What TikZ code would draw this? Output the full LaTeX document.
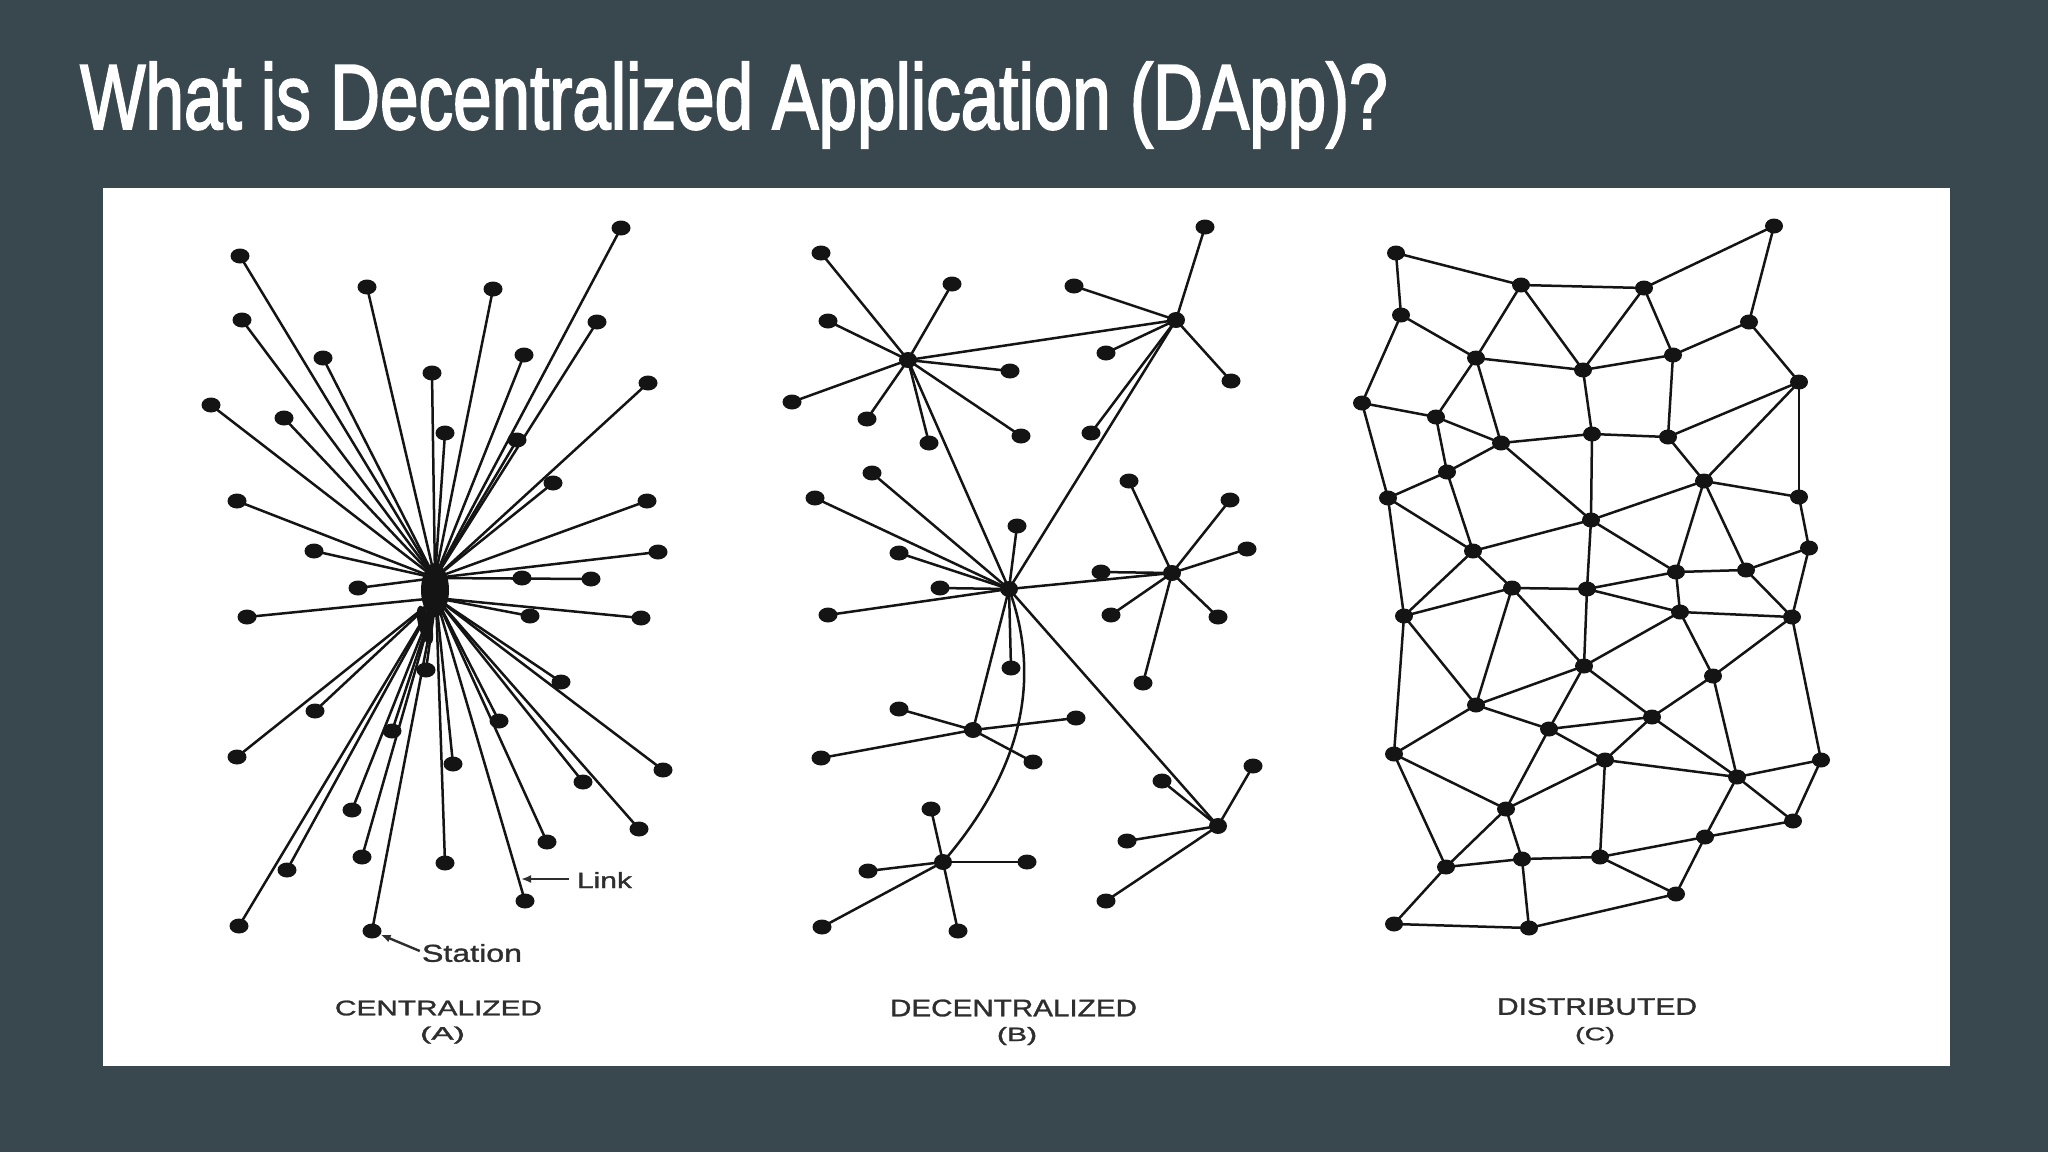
\documentclass[tikz,border=0pt]{standalone}
\usepackage{graphicx}
\usepackage{fontspec}
\setmainfont{Liberation Sans}
\newfontfamily\titlefont[FakeBold=2.4]{Liberation Sans}
\newfontfamily\capfont[FakeBold=1.2]{Liberation Sans}
\usetikzlibrary{shapes.geometric,arrows.meta}
\definecolor{slidebg}{HTML}{39474F}
\definecolor{ink}{HTML}{141414}
\definecolor{capink}{HTML}{2E2E2E}
\tikzset{
  stn/.style={ellipse,fill=ink,draw=none,minimum width=19pt,minimum height=15pt,inner sep=0pt},
  hubB/.style={ellipse,fill=ink,draw=none,minimum width=18pt,minimum height=16pt,inner sep=0pt},
  mesh/.style={ellipse,fill=ink,draw=none,minimum width=18pt,minimum height=15pt,inner sep=0pt},
  ln/.style={draw=ink,line width=2.5pt},
  lab/.style={inner sep=0pt,text=capink,anchor=center,font=\capfont},
  ptr/.style={draw=capink,line width=2.4pt,-{Latex[length=10pt,width=8pt]}}
}
\newcommand{\fitbox}[3]{\resizebox*{#1pt}{#2pt}{#3}}
\begin{document}
\begin{tikzpicture}[x=1pt,y=-1pt]
\useasboundingbox (0,0) rectangle (2048,1152);
\fill[slidebg] (0,0) rectangle (2048,1152);
\fill[white] (103,188) rectangle (1950,1066);
\node[inner sep=0pt,anchor=west,text=white] (title) at (80,105) {\fitbox{1307}{86}{\titlefont What is Decentralized Application (DApp)?}};

% ---------- A: centralized
\coordinate (hubT) at (435,578);
\coordinate (hubB) at (436,598);
\node[ellipse,fill=ink,minimum width=28pt,minimum height=54pt,inner sep=0pt] (hubA) at (435,590) {};
\node[ellipse,fill=ink,rotate=15,minimum width=13pt,minimum height=40pt,inner sep=0pt] (hubAlow) at (425,625) {};
\foreach \n/\x/\y in {A1/240/256,A2/367/287,A3/493/289,A4/621/228,A5/242/320,A6/323/358,A7/524/355,A8/597/322,A9/211/405,A10/284/418,A11/432/373,A12/445/433,A13/517/440,A14/648/383,A15/553/483,A16/237/501,A17/647/501,A18/314/551,A19/658/552,A20/522/578,A21/591/579,A22/358/588}{
  \node[stn] (\n) at (\x,\y) {};
  \draw[ln] (\n.center) -- (hubT);
}
\foreach \n/\x/\y in {A23/247/617,A24/530/616,A25/641/618,A26/426/670,A27/561/682,A28/315/711,A29/392/731,A30/499/721,A31/237/757,A32/663/770,A33/453/764,A34/583/782,A35/352/810,A36/639/829,A37/362/857,A38/547/842,A39/445/863,A40/287/870,A41/525/901,A42/239/926,A43/372/931}{
  \node[stn] (\n) at (\x,\y) {};
  \draw[ln] (\n.center) -- (hubB);
}
\node[lab] (linklab) at (604.5,880) {\fitbox{55}{16}{Link}};
\coordinate (linkpt) at (521,879);
\draw[ptr] (linklab.west) ++(-8,-1) -- (linkpt);
\node[lab] (stationlab) at (472,953) {\fitbox{100}{18}{Station}};
\draw[ptr] (stationlab.west) ++(-2,-2) -- (A43);
\node[lab] (capA) at (438.5,1008) {\fitbox{207}{15}{CENTRALIZED}};
\node[lab] (capAb) at (442.5,1035) {\fitbox{45}{17}{(A)}};

% ---------- B: decentralized
\foreach \n/\x/\y in {H1/908/360,H2/1176/320,H3/1009/589,H4/1172/573,H5/973/730,H6/943/862,H7/1218/826}{
  \node[hubB] (\n) at (\x,\y) {};
}
\foreach \h/\n/\x/\y in {
 H1/a1/821/253,H1/a2/952/284,H1/a3/828/321,H1/a4/1010/371,H1/a5/792/402,H1/a6/867/419,H1/a7/929/443,H1/a8/1021/436,
 H2/b1/1205/227,H2/b2/1074/286,H2/b3/1106/353,H2/b4/1231/381,H2/b5/1091/433,
 H3/c1/872/473,H3/c2/815/498,H3/c3/899/553,H3/c4/940/588,H3/c5/1017/526,H3/c6/828/615,H3/c7/1011/668,
 H4/d1/1129/481,H4/d2/1230/500,H4/d3/1247/549,H4/d4/1101/572,H4/d5/1111/615,H4/d6/1218/617,H4/d7/1143/683,
 H5/e1/899/709,H5/e2/1076/718,H5/e3/821/758,H5/e4/1033/762,
 H6/f1/931/809,H6/f2/868/871,H6/f3/1027/862,H6/f4/822/927,H6/f5/958/931,
 H7/g1/1162/781,H7/g2/1253/766,H7/g3/1127/841,H7/g4/1106/901}{
  \node[stn] (\n) at (\x,\y) {};
  \draw[ln] (\h.center) -- (\n.center);
}
\foreach \u/\v in {H1/H2,H1/H3,H2/H3,H3/H4,H3/H5,H3/H7}{
  \draw[ln] (\u.center) -- (\v.center);
}
\draw[ln] (H3.center) .. controls (1042,680) and (1022,770) .. (H6.center);
\node[lab] (capB) at (1013.5,1008) {\fitbox{247}{17}{DECENTRALIZED}};
\node[lab] (capBb) at (1017,1036) {\fitbox{40}{18}{(B)}};

% ---------- C: distributed
\foreach \n/\x/\y in {a/1396/253,b/1521/285,c/1644/288,d/1774/226,e/1401/315,f/1476/358,g/1583/370,h/1673/355,i/1749/322,j/1799/382,k/1362/403,l/1436/417,m/1501/443,n/1592/434,o/1668/437,p/1704/481,q/1447/472,r/1388/498,s/1799/497,t/1591/520,u/1473/551,v/1809/548,w/1676/572,x/1746/570,y/1512/588,z/1587/589,AA/1680/612,BB/1792/617,CC/1404/616,DD/1584/666,EE/1713/676,FF/1476/705,GG/1652/717,HH/1549/729,II/1394/754,JJ/1605/760,KK/1737/777,LL/1821/760,MM/1506/809,NN/1793/821,OO/1705/837,PP/1446/867,QQ/1522/859,RR/1600/857,SS/1676/894,TT/1394/924,UU/1529/928}{
  \node[mesh] (m\n) at (\x,\y) {};
}
\foreach \u/\v in {a/b,b/c,c/d,a/e,d/i,e/f,e/k,b/f,b/g,c/g,c/h,f/g,g/h,h/i,i/j,f/l,f/m,k/l,k/r,l/m,l/q,m/q,m/n,n/o,g/n,h/o,o/j,j/p,j/s,o/p,m/t,n/t,q/r,q/u,r/u,r/CC,t/u,t/p,t/z,t/w,p/s,p/w,p/x,s/v,u/CC,u/y,CC/y,y/z,z/w,z/AA,w/x,w/AA,x/v,x/BB,v/BB,AA/BB,y/FF,y/DD,z/DD,AA/DD,AA/EE,BB/EE,BB/LL,CC/FF,CC/II,FF/DD,FF/HH,FF/II,DD/HH,DD/GG,HH/GG,HH/JJ,GG/JJ,GG/EE,GG/KK,EE/KK,HH/MM,JJ/MM,JJ/RR,JJ/KK,KK/LL,KK/NN,KK/OO,LL/NN,II/MM,II/PP,MM/PP,MM/QQ,PP/QQ,QQ/RR,RR/OO,RR/SS,OO/NN,OO/SS,PP/TT,QQ/UU,TT/UU,UU/SS}{
  \draw[ln] (m\u.center) -- (m\v.center);
}
\node[lab] (capC) at (1597,1006.5) {\fitbox{200}{17}{DISTRIBUTED}};
\node[lab] (capCb) at (1595,1035.5) {\fitbox{40}{17}{(C)}};
\end{tikzpicture}
\end{document}
